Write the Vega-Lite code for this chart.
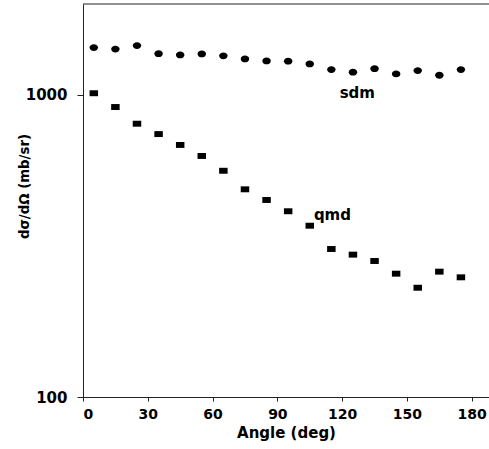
{
  "$schema": "https://vega.github.io/schema/vega-lite/v6.json",
  "autosize": "none",
  "width": 406,
  "height": 393,
  "padding": {"left": 83, "top": 4, "right": 0, "bottom": 52},
  "background": "white",
  "config": {
    "view": {"stroke": null},
    "axis": {"domainColor": "#222", "tickColor": "#222", "grid": false, "labelFont": "DejaVu Sans", "labelFontWeight": "bold", "labelColor": "black", "titleFont": "DejaVu Sans", "titleFontWeight": "bold", "titleColor": "black"}
  },
  "datasets": {
    "pts": [
      {"angle": 5, "xs": 1435, "series": "sdm"},
      {"angle": 15, "xs": 1418, "series": "sdm"},
      {"angle": 25, "xs": 1457, "series": "sdm"},
      {"angle": 35, "xs": 1370, "series": "sdm"},
      {"angle": 45, "xs": 1357, "series": "sdm"},
      {"angle": 55, "xs": 1367, "series": "sdm"},
      {"angle": 65, "xs": 1347, "series": "sdm"},
      {"angle": 75, "xs": 1316, "series": "sdm"},
      {"angle": 85, "xs": 1296, "series": "sdm"},
      {"angle": 95, "xs": 1293, "series": "sdm"},
      {"angle": 105, "xs": 1267, "series": "sdm"},
      {"angle": 115, "xs": 1213, "series": "sdm"},
      {"angle": 125, "xs": 1189, "series": "sdm"},
      {"angle": 135, "xs": 1222, "series": "sdm"},
      {"angle": 145, "xs": 1174, "series": "sdm"},
      {"angle": 155, "xs": 1204, "series": "sdm"},
      {"angle": 165, "xs": 1162, "series": "sdm"},
      {"angle": 175, "xs": 1213, "series": "sdm"},
      {"angle": 5, "xs": 1013, "series": "qmd"},
      {"angle": 15, "xs": 912, "series": "qmd"},
      {"angle": 25, "xs": 803, "series": "qmd"},
      {"angle": 35, "xs": 742, "series": "qmd"},
      {"angle": 45, "xs": 683, "series": "qmd"},
      {"angle": 55, "xs": 628, "series": "qmd"},
      {"angle": 65, "xs": 561, "series": "qmd"},
      {"angle": 75, "xs": 487, "series": "qmd"},
      {"angle": 85, "xs": 449, "series": "qmd"},
      {"angle": 95, "xs": 412, "series": "qmd"},
      {"angle": 105, "xs": 369, "series": "qmd"},
      {"angle": 115, "xs": 309, "series": "qmd"},
      {"angle": 125, "xs": 296, "series": "qmd"},
      {"angle": 135, "xs": 282, "series": "qmd"},
      {"angle": 145, "xs": 256, "series": "qmd"},
      {"angle": 155, "xs": 230, "series": "qmd"},
      {"angle": 165, "xs": 260, "series": "qmd"},
      {"angle": 175, "xs": 249, "series": "qmd"}
    ],
    "labels": [
      {"angle": 127, "xs": 1015, "label": "sdm"},
      {"angle": 115.5, "xs": 400, "label": "qmd"}
    ],
    "top": [{"xs": 2000}]
  },
  "layer": [
    {
      "data": {"name": "top"},
      "mark": {"type": "rule", "color": "#222", "strokeWidth": 1},
      "encoding": {
        "y": {"field": "xs", "type": "quantitative"}
      }
    },
    {
      "data": {"name": "pts"},
      "mark": {"type": "point", "filled": true, "opacity": 1, "size": 72},
      "encoding": {
        "x": {"field": "angle", "type": "quantitative", "scale": {"domain": [0, 188], "nice": false}, "axis": {"values": [0, 30, 60, 90, 120, 150, 180], "tickSize": 4, "labelPadding": 6, "labelFontSize": 14, "title": "Angle (deg)", "titleFontSize": 15, "titlePadding": 4}},
        "y": {"field": "xs", "type": "quantitative", "scale": {"type": "log", "domain": [100, 2000], "nice": false}, "axis": {"values": [100, 1000], "format": "d", "tickSize": 6, "labelPadding": 10, "labelFontSize": 15, "title": "dσ/dΩ (mb/sr)", "titleFontSize": 13.3, "titleX": -52, "titleY": 182, "titleBaseline": "bottom"}},
        "shape": {"field": "series", "type": "nominal", "legend": null, "scale": {"domain": ["sdm", "qmd"], "range": ["M-1,0A1,0.8 0 1,0 1,0A1,0.8 0 1,0 -1,0Z", "M-1,-0.7H1V0.7H-1Z"]}},
        "color": {"value": "black"}
      }
    },
    {
      "data": {"name": "labels"},
      "mark": {"type": "text", "font": "DejaVu Sans", "fontWeight": "bold", "fontSize": 15, "color": "black"},
      "encoding": {
        "x": {"field": "angle", "type": "quantitative"},
        "y": {"field": "xs", "type": "quantitative"},
        "text": {"field": "label"}
      }
    }
  ]
}
